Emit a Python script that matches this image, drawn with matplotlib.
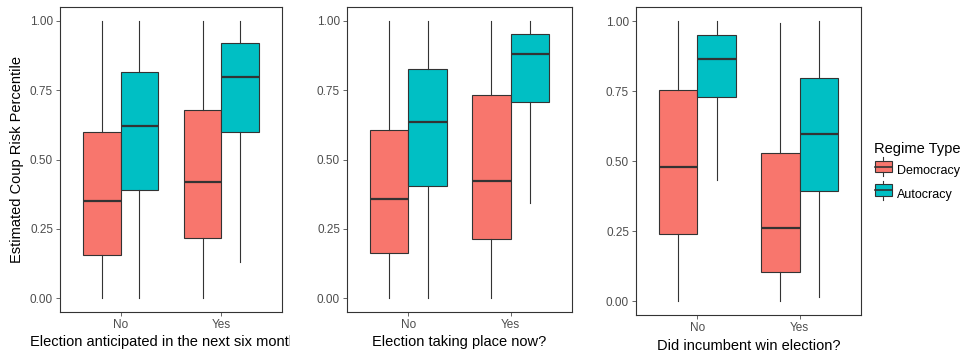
import matplotlib
matplotlib.use("Agg")
import matplotlib.pyplot as plt
from matplotlib.patches import Rectangle
from matplotlib.lines import Line2D
from matplotlib.legend_handler import HandlerBase
from matplotlib.transforms import Bbox, TransformedBbox

plt.rcParams['font.family'] = ['Liberation Sans', 'DejaVu Sans']

# categories
categories = ["No", "Yes"]
regimes = ["Democracy", "Autocracy"]
colors = {"Democracy": "#F8766D", "Autocracy": "#00BFC4"}
xlabels = ["Election anticipated in the next six months?",
           "Election taking place now?",
           "Did incumbent win election?"]

# box stats per panel: [No, Yes]
dem_whislo = [[0.0, 0.0], [0.0, 0.0], [0.0, 0.0]]
dem_q1 = [[0.154, 0.218], [0.162, 0.212], [0.241, 0.102]]
dem_med = [[0.350, 0.419], [0.356, 0.421], [0.480, 0.260]]
dem_q3 = [[0.598, 0.679], [0.605, 0.731], [0.753, 0.530]]
dem_whishi = [[1.0, 1.0], [1.0, 1.0], [1.0, 0.994]]

aut_whislo = [[0.0, 0.129], [0.0, 0.344], [0.432, 0.013]]
aut_q1 = [[0.390, 0.600], [0.406, 0.706], [0.730, 0.392]]
aut_med = [[0.622, 0.799], [0.636, 0.882], [0.863, 0.597]]
aut_q3 = [[0.816, 0.919], [0.825, 0.951], [0.951, 0.797]]
aut_whishi = [[1.0, 1.0], [1.0, 1.0], [1.0, 1.0]]

yticks = [0.0, 0.25, 0.5, 0.75, 1.0]

edge = "#333333"
txtgray = "#4D4D4D"

fig = plt.figure(figsize=(9.74, 3.58), dpi=100)
W, H = 974, 358
panel_px = [(60, 7, 282, 312), (347, 7, 572, 312), (636, 7, 861, 315)]


def stats(lo, q1, med, q3, hi):
    return dict(whislo=lo, q1=q1, med=med, q3=q3, whishi=hi, fliers=[])


axes = []
for i, (l, t, r, b) in enumerate(panel_px):
    ax = fig.add_axes([l / W, 1 - b / H, (r - l) / W, (b - t) / H])
    axes.append(ax)
    for j, (name, lo, q1, med, q3, hi, off) in enumerate([
            ("Democracy", dem_whislo, dem_q1, dem_med, dem_q3, dem_whishi, -0.1875),
            ("Autocracy", aut_whislo, aut_q1, aut_med, aut_q3, aut_whishi, 0.1875)]):
        st = [stats(lo[i][k], q1[i][k], med[i][k], q3[i][k], hi[i][k]) for k in range(2)]
        ax.bxp(st, positions=[k + 1 + off for k in range(2)], widths=0.375,
               showcaps=False, showfliers=False, patch_artist=True,
               boxprops=dict(facecolor=colors[name], edgecolor=edge, linewidth=0.8),
               whiskerprops=dict(color=edge, linewidth=0.8),
               medianprops=dict(color=edge, linewidth=1.6))
    ax.set_xlim(0.4, 2.6)
    ax.set_ylim(-0.05, 1.05)
    ax.set_xticks([1, 2])
    ax.set_xticklabels(categories)
    ax.set_yticks(yticks)
    ax.set_yticklabels([f"{v:.2f}" for v in yticks])
    ax.tick_params(colors=txtgray, labelsize=8.5, length=3, width=0.6, pad=2)
    for s in ax.spines.values():
        s.set_color(edge)
        s.set_linewidth(0.8)
    lab = ax.set_xlabel(xlabels[i], fontsize=10.5, color="black",
                        labelpad=3 if i < 2 else 4)
    if i == 0:
        lab.set_clip_box(TransformedBbox(Bbox([[0, 0], [290 / W, 1]]), fig.transFigure))
        lab.set_clip_on(True)

axes[0].set_ylabel("Estimated Coup Risk Percentile", fontsize=10.5, labelpad=4)


class BoxKey(HandlerBase):
    def create_artists(self, legend, orig, xd, yd, width, height, fontsize, trans):
        r = Rectangle((xd, yd), width, height, facecolor=orig.get_facecolor(),
                      edgecolor=edge, linewidth=0.8, transform=trans)
        m = Line2D([xd, xd + width], [yd + height / 2] * 2, color=edge, lw=1.2, transform=trans)
        w1 = Line2D([xd + width / 2] * 2, [yd + height, yd + height + 2.5], color=edge, lw=0.8, transform=trans)
        w2 = Line2D([xd + width / 2] * 2, [yd, yd - 2.5], color=edge, lw=0.8, transform=trans)
        return [r, m, w1, w2]


handles = [Rectangle((0, 0), 1, 1, facecolor=colors[r]) for r in regimes]
leg = fig.legend(handles, regimes, handler_map={Rectangle: BoxKey()},
                 title="Regime Type", loc="upper left",
                 bbox_to_anchor=(872 / W, 1 - 139 / H), frameon=False,
                 fontsize=9, title_fontsize=10.5, handlelength=1.36, handleheight=1.05,
                 handletextpad=0.45, labelspacing=0.85, borderaxespad=0, borderpad=0.2)
leg._legend_box.align = "left"
leg._legend_box.sep = 6

fig.savefig("out.png", dpi=100)
